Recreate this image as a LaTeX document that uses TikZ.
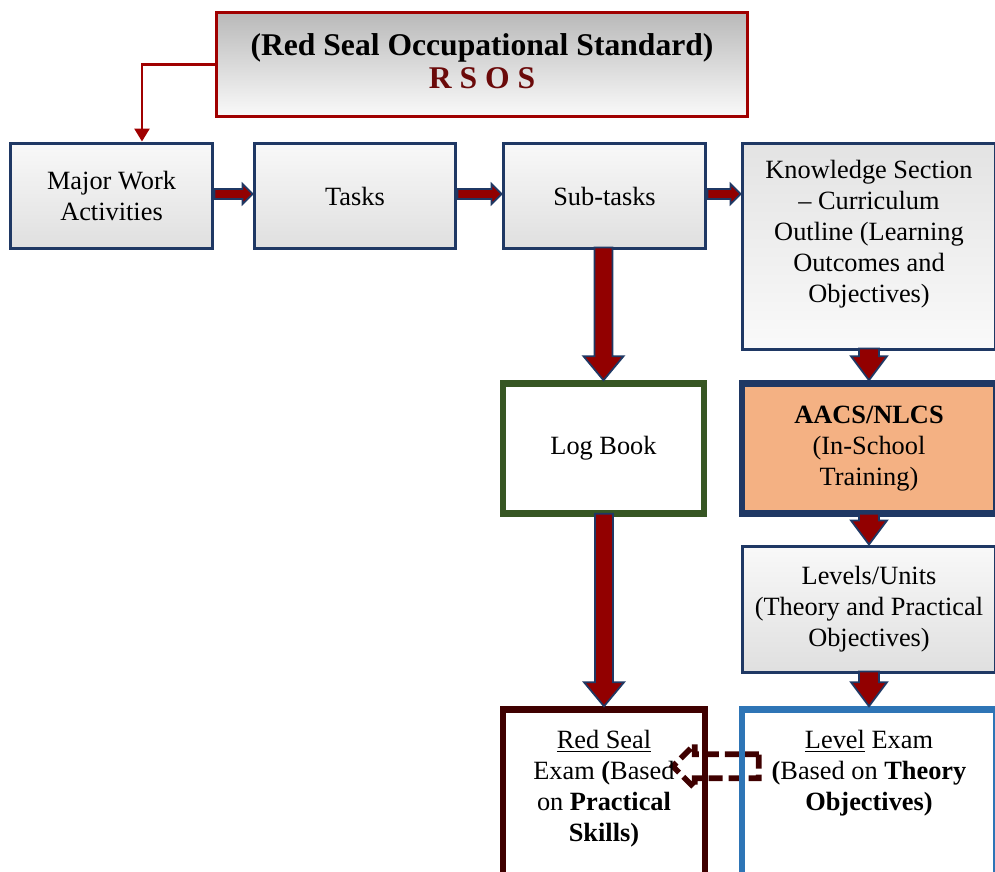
\documentclass[tikz,border=0pt]{standalone}
\usepackage{fontspec}
\setmainfont{Liberation Serif}
\usepackage{tikz}
\usetikzlibrary{calc,arrows.meta,backgrounds}

\definecolor{navybox}{HTML}{1F3864}
\definecolor{arrowred}{HTML}{920000}
\definecolor{titlered}{HTML}{A00000}
\definecolor{rsosred}{HTML}{6B0A0A}
\definecolor{logbookgreen}{HTML}{375623}
\definecolor{exammaroon}{HTML}{3F0000}
\definecolor{examblue}{HTML}{2E75B6}
\definecolor{schoolorange}{HTML}{F4B183}

\newcommand{\blkdown}[4]{%
\draw[blkarrow] ($(#2.north |- #1.south)+(-#3,-3)$) -- ($(#2.north)+(-#3,-24)$)
  -- ($(#2.north)+(-#4,-24)$) -- (#2.north) -- ($(#2.north)+(#4,-24)$)
  -- ($(#2.north)+(#3,-24)$) -- ($(#2.north |- #1.south)+(#3,-3)$) -- cycle;}
\newcommand{\blkright}[2]{%
\draw[blkarrow] ($(#1.east)+(0,-7)$) -- ($(#2.west |- #1.east)+(-10,-7)$)
  -- ($(#2.west |- #1.east)+(-10,-12)$) -- ($(#2.west |- #1.east)+(0,-2)$) -- ($(#2.west |- #1.east)+(-10,8)$)
  -- ($(#2.west |- #1.east)+(-10,3)$) -- ($(#1.east)+(0,3)$) -- cycle;}

\begin{document}
\begin{tikzpicture}[x=0.02cm, y=-0.02cm,
  box/.style={draw=navybox, line width=1.7pt, align=center, inner sep=0pt,
    font=\fontsize{15}{17.6}\selectfont},
  graybox/.style={box, top color=gray!5, bottom color=gray!25},
  thickbox/.style={box, line width=3.7pt},
  blkarrow/.style={draw=navybox, fill=arrowred, line width=1pt, line join=miter},
  elbow/.style={draw=titlered, line width=1.5pt, -{Triangle[length=0.26cm, width=0.3cm]}},
  dasharrow/.style={draw=exammaroon, line width=3.2pt, dash pattern=on 0.28cm off 0.12cm}]
\useasboundingbox (0,0) rectangle (995,872);
\node[graybox, draw=titlered, top color=gray!55, bottom color=gray!4, minimum width=10.64cm, minimum height=2.1cm,
  font=\fontsize{18}{18.7}\selectfont\bfseries] (rsos) at (482,64.5)
  {\parbox[c][2.1cm][t]{10.64cm}{\centering\vspace{12.5pt}(Red Seal Occupational Standard)\\ \textcolor{rsosred}{R S O S}}};
\node[graybox, minimum width=4.06cm, minimum height=2.12cm] (mwa) at (111.5,196) {Major Work\\ Activities};
\node[graybox, minimum width=4.04cm, minimum height=2.12cm] (tasks) at (355,196) {Tasks};
\node[graybox, minimum width=4.06cm, minimum height=2.12cm] (subtasks) at (604.5,196) {Sub-tasks};
\node[graybox, top color=gray!22, bottom color=gray!4, minimum width=5.08cm, minimum height=4.14cm] (knowledge) at (869,246.5)
  {\parbox[c][4.14cm][t]{5.08cm}{\centering\vspace{10pt}Knowledge Section\\ -- Curriculum\\ Outline (Learning\\ Outcomes and\\ Objectives)}};
\node[thickbox, draw=logbookgreen, fill=white, minimum width=4.02cm, minimum height=2.6cm] (logbook) at (603.5,448.5) {Log Book};
\node[thickbox, fill=schoolorange, minimum width=5.08cm, minimum height=2.6cm] (aacs) at (869,448.5)
  {\textbf{AACS/NLCS}\\ (In-School\\ Training)};
\node[graybox, minimum width=5.08cm, minimum height=2.54cm] (levels) at (869,609.5)
  {Levels/Units\\ (Theory and Practical\\ Objectives)};
\node[thickbox, draw=exammaroon, minimum width=4.04cm, minimum height=3.42cm] (rsexam) at (604,795)
  {\parbox[c][3.42cm][t]{4.04cm}{\centering\vspace{12pt}\underline{Red Seal}\\ Exam \textbf{(}Based\\ on \textbf{Practical}\\ \textbf{Skills)}}};
\node[thickbox, draw=examblue, minimum width=5.08cm, minimum height=3.42cm] (lvexam) at (869,795)
  {\parbox[c][3.42cm][t]{5.08cm}{\centering\vspace{12pt}\underline{Level} Exam\\ \textbf{(}Based on \textbf{Theory}\\ \textbf{Objectives)}}};

\draw[elbow] (rsos.west) -| ([xshift=0.61cm]mwa.north);
\blkright{mwa}{tasks}
\blkright{tasks}{subtasks}
\blkright{subtasks}{knowledge}
\blkdown{subtasks}{logbook}{9}{20}
\blkdown{logbook}{rsexam}{9}{20}
\blkdown{knowledge}{aacs}{10}{18}
\blkdown{aacs}{levels}{10}{18}
\blkdown{levels}{lvexam}{10}{18}

\begin{scope}[on background layer]
\draw[dasharrow] ($(lvexam.north west)+(20,48)$) -- ++(-64,0) -- ++(0,-10) -- ++(-22,22)
  -- ++(22,22) -- ++(0,-10) -- ++(64,0) -- cycle;
\end{scope}
\end{tikzpicture}
\end{document}
